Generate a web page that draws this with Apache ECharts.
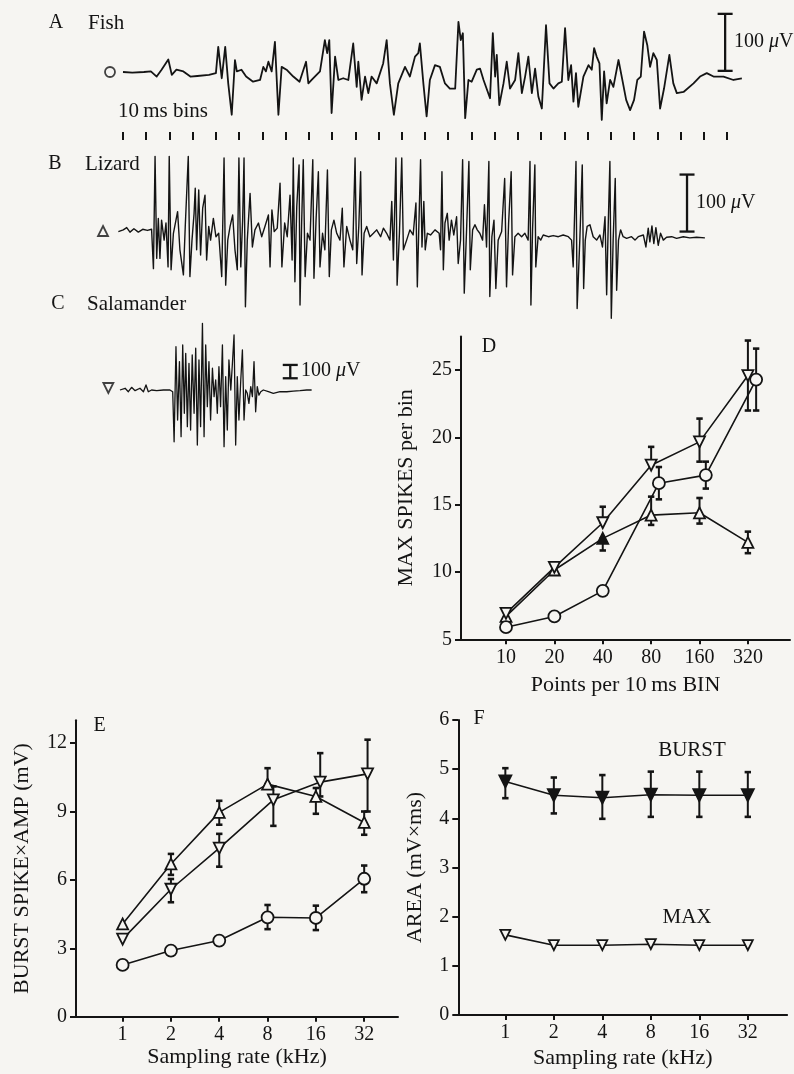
<!DOCTYPE html>
<html>
<head>
<meta charset="utf-8">
<script src="https://cdn.jsdelivr.net/npm/echarts@6/dist/echarts.min.js"></script>
<style>
html,body{margin:0;padding:0;background:#f6f5f2;}
#chart{width:794px;height:1074px;}
</style>
</head>
<body>
<div id="chart"></div>
<script>
// ---------- DATA ----------
// Raw recordings: [time (ms), potential (µV)]
const fishTrace = [[0,0],[4,-1],[9,0],[12,1],[14.5,-8],[16.6,4],[19.5,22],[21,-5],[23,4],[26,1],[29,-8],[32,-7],[37,-5],[40,-2],[41,44],[42.5,-11],[44,44],[45.3,-20],[46.8,-75],[48.2,21],[49,1],[51,4],[53,-8],[56,-17],[59,-14],[60.4,9],[61.5,1],[62.6,18],[64,1],[65.4,53],[66.9,-75],[68.3,9],[70.4,4],[73.3,-8],[76,-17],[78.8,18],[79.8,-20],[81.2,-14],[84.8,1],[86.9,56],[87.9,33],[88.8,56],[89.8,-72],[91.3,27],[92.7,-14],[94.8,-11],[97,-14],[99.1,50],[100.6,-26],[101.3,18],[102.7,-49],[104.2,-8],[105.6,-37],[107,-8],[109.2,-20],[112,15],[113.5,56],[114.9,-20],[116.6,-75],[118.5,-20],[121.4,9],[123.5,-8],[125.7,27],[127.1,33],[127.8,50],[129.3,-20],[130.7,-78],[132.1,-14],[134.3,12],[136.4,9],[138.6,-20],[140.7,-29],[143,-29],[144.4,88],[145.4,56],[146.3,68],[147.3,-81],[148.7,-14],[150.1,-17],[152.3,4],[153.7,6],[155.2,-14],[158,-46],[159.2,68],[160.2,-8],[160.9,30],[162,-58],[163.8,-20],[165.2,18],[166.6,-29],[168.8,-14],[170.2,33],[171.7,-37],[173.1,-8],[174.5,27],[176,-37],[177.4,6],[178.8,-43],[180.3,-64],[182.1,82],[183.6,-20],[185.3,-29],[187.4,-20],[188.9,-17],[190.3,77],[191.7,-14],[192.9,12],[193.9,-52],[195,-2],[196,-61],[198.2,-8],[200.4,12],[201.8,4],[202.8,42],[203.9,27],[205.1,15],[206.1,-84],[207.1,1],[208.2,-55],[209.7,-14],[211.1,-26],[213.3,21],[215.1,-17],[216.6,-49],[218.3,-67],[220,-49],[221.4,-14],[222.9,-8],[224.3,71],[225.7,47],[226.9,9],[228.3,33],[229.8,21],[231.2,-64],[232.9,-29],[235.2,30],[236.9,-20],[238.4,-37],[241.3,-35],[245.6,-20],[248.4,-8],[251.3,-2],[254.2,-8],[258.5,-8],[262.8,-14],[266.4,-11]];

const lizardTrace = [[-2,-1],[0.1,2],[1.6,6],[3,-2],[4.7,4],[6.6,-2],[8.5,3],[10.5,1],[12.3,3],[13.1,-66],[13.8,131],[14.5,-48],[15.2,22],[15.9,-48],[16.6,19],[17.7,-16],[18.5,14],[19.4,-63],[19.9,131],[20.7,-68],[21.7,-4],[22.8,19],[23.5,34],[24.5,-33],[26,-77],[26.8,8],[28.1,131],[28.8,-80],[29.7,-16],[30.6,31],[31.1,75],[31.7,-33],[32.6,72],[33.4,-42],[34.3,40],[35.3,63],[36,-51],[36.9,8],[37.7,-16],[38.9,22],[40,-10],[41.2,-4],[42.5,-80],[43.5,128],[44.2,-95],[45.1,-16],[46.1,8],[47.2,28],[48.2,-33],[49.2,-68],[49.9,128],[50.7,-63],[51.5,19],[52.1,128],[52.7,-133],[53.5,-16],[54.7,66],[55.7,-28],[56.8,2],[58.3,14],[59.7,-10],[61.1,8],[62.6,28],[63.3,-63],[64.1,37],[65.1,-1],[66.4,5],[67.6,84],[68.4,-63],[69.6,14],[70.7,-10],[71.9,63],[72.8,-51],[73.3,128],[74,-89],[74.8,43],[75.8,116],[76.2,-130],[76.9,14],[77.6,125],[78.4,-80],[79.4,-4],[80.5,-16],[81.7,125],[82.2,-83],[83.1,19],[84.1,104],[84.8,-63],[85.9,-4],[86.9,-33],[88,107],[88.8,-80],[89.7,2],[90.8,19],[92,-4],[93.4,-16],[94.4,40],[95.1,-63],[96.3,8],[97.7,-16],[98.9,-33],[99.9,128],[100.6,-57],[101.5,8],[102.3,104],[102.9,-77],[103.8,-4],[104.9,8],[106.3,-10],[107.8,-4],[109.2,2],[110.9,-10],[112.1,5],[113.5,-4],[114.9,-16],[115.7,52],[116.4,-51],[117.5,128],[118,-95],[119,-4],[120,128],[120.7,-33],[122.1,-16],[123.5,2],[124.9,-7],[126.1,49],[126.7,-98],[127.2,-16],[128.1,125],[128.7,-28],[129.5,52],[130.1,-33],[131,-4],[132.4,-7],[134.3,2],[136.1,-4],[136.7,-33],[137.3,104],[137.9,-68],[138.6,14],[139.6,31],[140.4,-16],[141.4,19],[142.4,-7],[143.6,25],[144.3,-57],[145.3,-16],[146.2,125],[146.9,-109],[147.9,2],[148.9,122],[149.5,-68],[150.5,2],[151.5,11],[152.5,2],[153.6,-4],[154.8,-16],[155.6,46],[156.5,-28],[157.5,122],[157.9,-115],[158.8,-10],[159.7,19],[160.5,-101],[161.5,-16],[163,-1],[164.3,92],[165.1,-98],[166,14],[167.1,104],[167.7,-77],[168.7,-10],[170.1,-4],[171.6,-10],[173,-4],[174.4,-16],[175.2,122],[175.6,-130],[176.3,2],[177.3,116],[177.7,-63],[178.7,-10],[179.8,-16],[180.9,-7],[183.1,-10],[185.2,-8],[187.4,-10],[189.5,-7],[191.7,-10],[193.1,-16],[193.8,-63],[195,122],[195.5,-136],[196.7,-10],[197.7,116],[198.3,-101],[199,-16],[199.8,8],[201,11],[202.4,-10],[203.9,-16],[205.3,-7],[206.4,-28],[207.5,25],[208.2,-112],[208.9,14],[209.6,122],[210.2,-153],[211,-16],[211.9,92],[212.5,-104],[213.3,-16],[214.2,2],[215.3,-10],[216.8,-13],[218.9,-10],[220.4,-16],[221.8,-10],[224,-7],[225.1,-28],[226.1,5],[226.8,-19],[227.7,9],[228.5,-22],[229.4,6],[230.4,-25],[231.4,-4],[232.6,-16],[234,-11],[236.2,-10],[238.3,-13],[241.2,-10],[244,-12],[246.9,-11],[250.5,-12]];

const salamanderTrace = [[-1.3,0],[0.9,13],[2.3,-13],[3.7,20],[5.2,-5],[7.3,13],[8.8,-13],[9.9,38],[10.9,-13],[12.3,0],[14.5,-5],[17.4,0],[20.2,0],[21.4,-13],[22,-388],[22.8,325],[23.5,-225],[24.3,213],[25,-350],[25.7,338],[26.4,-175],[27,275],[27.7,-275],[28.4,200],[29.1,-300],[29.8,263],[30.6,-175],[31.3,313],[32,-413],[32.7,225],[33.4,-275],[34.2,500],[34.9,-350],[35.6,338],[36.3,-125],[37,213],[37.7,-225],[38.5,163],[39.2,-50],[39.9,75],[40.6,-175],[41.3,175],[42,-125],[42.8,338],[43.5,-425],[44.2,100],[44.9,-300],[45.6,225],[46.4,0],[47.1,200],[47.8,413],[48.5,-413],[49.2,100],[49.9,-225],[50.7,75],[51.4,300],[52.1,-225],[52.8,0],[53.5,-25],[54.2,-100],[55,25],[55.7,-50],[56.4,213],[57.1,-163],[57.8,25],[58.5,-38],[59.3,-13],[60.4,0],[62.6,-13],[64.7,-25],[67.6,-13],[70.5,-13],[73.3,-8],[76.2,-5],[79.1,0],[81.2,0]];

// 100 µV calibration bars: [time, from µV, to µV]
const calA = [[259.2, 2, 102]];
const calB = [[242.8, -1, 99]];
const calC = [[72, 88, 188]];
// species symbols at trace start: [time, µV]
const markA = [[-5.6, 0]];
const markB = [[-8.6, 0]];
const markC = [[-6.3, 15]];

// Panel D: max spikes per bin vs points per 10 ms bin
const pointsCats = ['10','20','40','80','160','320'];
const dFish = [5.9, 6.7, 8.6, 16.6, 17.2, 24.3];
const dFishLo = [null, null, null, 15.4, 16.2, 22.0];
const dFishHi = [null, null, null, 17.8, 18.2, 26.6];
const dLizard = [6.7, 10.15, 12.5, 14.23, 14.4, 12.2];
const dLizardLo = [null, null, 11.6, 13.5, 13.6, 11.4];
const dLizardHi = [null, null, 12.5, 15.6, 15.5, 13.0];
const dSal = [6.93, 10.35, 13.66, 17.94, 19.67, 24.6];
const dSalLo = [null, null, 13.66, 17.94, 18.2, 22.0];
const dSalHi = [null, null, 14.85, 19.3, 21.4, 27.2];

// Panel E: burst spike x amp vs sampling rate
const rateCats = ['1','2','4','8','16','32'];
const eFish = [2.27, 2.9, 3.34, 4.36, 4.33, 6.05];
const eFishLo = [null, null, null, 3.84, 3.8, 5.46];
const eFishHi = [null, null, null, 4.9, 4.87, 6.63];
const eLizard = [4.07, 6.7, 8.96, 10.2, 9.66, 8.52];
const eLizardLo = [null, 6.22, 8.42, 10.2, 8.9, 7.98];
const eLizardHi = [null, 7.14, 9.47, 10.9, 10.03, 9.0];
const eSal = [3.4, 5.59, 7.39, 9.51, 10.29, 10.65];
const eSalLo = [null, 5.02, 6.58, 8.37, 9.66, 9.0];
const eSalHi = [null, 6.04, 8.02, 10.1, 11.56, 12.15];

// Panel F: area vs sampling rate
const fBurst = [4.75, 4.47, 4.42, 4.48, 4.47, 4.47];
const fBurstLo = [4.41, 4.1, 3.99, 4.03, 4.03, 4.03];
const fBurstHi = [5.02, 4.83, 4.88, 4.95, 4.95, 4.94];
const fMax = [1.63, 1.42, 1.42, 1.44, 1.42, 1.42];

const dTicks = [5, 10, 15, 20, 25];
const eTicks = [0, 3, 6, 9, 12];
const fTicks = [0, 1, 2, 3, 4, 5, 6];

// ---------- STYLE ----------
const INK = '#141414';
const BG = '#f6f5f2';
const SERIF = '"Liberation Serif", "Times New Roman", serif';

const chart = echarts.init(document.getElementById('chart'), null, {renderer: 'canvas'});

function traceAxes(gi, ymin, ymax) {
  return {
    x: {type: 'value', gridIndex: gi, min: -10, max: 270, show: false},
    y: {type: 'value', gridIndex: gi, min: ymin, max: ymax, show: false}
  };
}

function plotXAxis(gi, min, max, cats, name, gap) {
  return {
    type: 'value', gridIndex: gi, min: min, max: max,
    name: name, nameLocation: 'middle', nameGap: gap,
    nameTextStyle: {fontFamily: SERIF, fontSize: 22, color: INK},
    axisLine: {show: true, onZero: false, lineStyle: {color: INK, width: 2}},
    axisTick: {show: true, length: 5, lineStyle: {color: INK, width: 2}, customValues: [0,1,2,3,4,5]},
    axisLabel: {fontFamily: SERIF, fontSize: 20, color: INK, margin: 8,
      customValues: [0,1,2,3,4,5], formatter: v => cats[Math.round(v)]},
    splitLine: {show: false}
  };
}
function plotYAxis(gi, min, max, ticks, name, gap) {
  return {
    type: 'value', gridIndex: gi, min: min, max: max,
    name: name, nameLocation: 'middle', nameGap: gap,
    nameTextStyle: {fontFamily: SERIF, fontSize: 22, color: INK},
    axisLine: {show: true, onZero: false, lineStyle: {color: INK, width: 2}},
    axisTick: {show: true, length: 6, lineStyle: {color: INK, width: 2}, customValues: ticks},
    axisLabel: {fontFamily: SERIF, fontSize: 20, color: INK, margin: 9, customValues: ticks},
    splitLine: {show: false}
  };
}

const tA = traceAxes(0, -100, 125);
const tB = traceAxes(2, -160, 150);
const tC = traceAxes(3, -525, 525);

const xAxes = [
  tA.x,
  {type: 'value', gridIndex: 1, min: 0, max: 260, interval: 10,
   axisLine: {show: false}, axisLabel: {show: false}, splitLine: {show: false},
   axisTick: {show: true, inside: true, length: 8, lineStyle: {color: INK, width: 2}}},
  tB.x,
  tC.x,
  plotXAxis(4, -0.93, 5.87, pointsCats, 'Points per 10\u2009ms BIN', 35),
  plotXAxis(5, -0.965, 5.7, rateCats, 'Sampling rate (kHz)', 30),
  plotXAxis(6, -0.97, 5.81, rateCats, 'Sampling rate (kHz)', 32)
];
const yAxes = [
  tA.y,
  {type: 'value', gridIndex: 1, min: 0, max: 1, show: false},
  tB.y,
  tC.y,
  plotYAxis(4, 5, 27.5, dTicks, 'MAX SPIKES per bin', 44),
  plotYAxis(5, 0, 13, eTicks, 'BURST SPIKE\u00D7AMP (mV)', 43),
  plotYAxis(6, 0, 6, fTicks, 'AREA (mV\u00D7ms)', 32)
];

function traceSeries(ax, data, w) {
  return {type: 'line', xAxisIndex: ax, yAxisIndex: ax, data: data, symbol: 'none',
    showSymbol: false, smooth: false, sampling: null, silent: true,
    lineStyle: {color: INK, width: w, join: 'round'}, z: 3};
}
function calSeries(ax, data) {
  return {type: 'custom', xAxisIndex: ax, yAxisIndex: ax, data: data, silent: true, z: 4,
    renderItem: function (p, api) {
      const t = api.value(0);
      const a = api.coord([t, api.value(1)]);
      const b = api.coord([t, api.value(2)]);
      const h = 7.5;
      const st = {stroke: INK, lineWidth: 2.3};
      return {type: 'group', children: [
        {type: 'line', shape: {x1: a[0], y1: a[1], x2: b[0], y2: b[1]}, style: st},
        {type: 'line', shape: {x1: a[0]-h, y1: a[1], x2: a[0]+h, y2: a[1]}, style: st},
        {type: 'line', shape: {x1: b[0]-h, y1: b[1], x2: b[0]+h, y2: b[1]}, style: st}
      ]};
    }};
}
function markSeries(ax, data, symbol, rot) {
  return {type: 'scatter', xAxisIndex: ax, yAxisIndex: ax, data: data, symbol: symbol,
    symbolRotate: rot, symbolSize: 10, silent: true, z: 5,
    itemStyle: {color: BG, borderColor: INK, borderWidth: 1.8}};
}
function shifted(i, shift) { return i + (shift ? shift[i] : 0); }
function pointSeries(ax, vals, symbol, rot, size, fill, shift, special) {
  return {type: 'line', xAxisIndex: ax, yAxisIndex: ax, silent: true, z: 5,
    data: vals.map((v, i) => {
      const item = {value: [shifted(i, shift), v]};
      if (special && special[i]) item.itemStyle = {color: INK};
      return item;
    }),
    symbol: symbol, symbolRotate: rot, symbolSize: size, showSymbol: true,
    lineStyle: {color: INK, width: 1.6},
    itemStyle: {color: fill, borderColor: INK, borderWidth: 1.8}};
}
function errSeries(ax, lo, hi, shift) {
  const data = [];
  for (let i = 0; i < lo.length; i++) {
    if (lo[i] != null) data.push([shifted(i, shift), lo[i], hi[i]]);
  }
  return {type: 'custom', xAxisIndex: ax, yAxisIndex: ax, data: data, silent: true, z: 2,
    encode: {x: 0, y: [1, 2]},
    renderItem: function (p, api) {
      const x = api.value(0);
      const a = api.coord([x, api.value(1)]);
      const b = api.coord([x, api.value(2)]);
      const h = 3.2;
      const st = {stroke: INK, lineWidth: 2};
      const cap = {stroke: INK, lineWidth: 2.6};
      return {type: 'group', children: [
        {type: 'line', shape: {x1: a[0], y1: a[1], x2: b[0], y2: b[1]}, style: st},
        {type: 'line', shape: {x1: a[0]-h, y1: a[1], x2: a[0]+h, y2: a[1]}, style: cap},
        {type: 'line', shape: {x1: b[0]-h, y1: b[1], x2: b[0]+h, y2: b[1]}, style: cap}
      ]};
    }};
}

const fishShiftD = [0, 0, 0, 0.16, 0.13, 0.17];
const salShiftE = [0, 0, 0, 0.12, 0.09, 0.07];

const series = [
  traceSeries(0, fishTrace, 1.8),
  traceSeries(2, lizardTrace, 1.4),
  traceSeries(3, salamanderTrace, 1.3),
  calSeries(0, calA), calSeries(2, calB), calSeries(3, calC),
  markSeries(0, markA, 'circle', 0),
  markSeries(2, markB, 'triangle', 0),
  markSeries(3, markC, 'triangle', 180),
  // D
  errSeries(4, dFishLo, dFishHi, fishShiftD),
  errSeries(4, dLizardLo, dLizardHi),
  errSeries(4, dSalLo, dSalHi),
  pointSeries(4, dLizard, 'triangle', 0, 11, BG, null, [false, false, true, false, false, false]),
  pointSeries(4, dSal, 'triangle', 180, 11, BG),
  pointSeries(4, dFish, 'circle', 0, 12, BG, fishShiftD),
  // E
  errSeries(5, eFishLo, eFishHi),
  errSeries(5, eLizardLo, eLizardHi),
  errSeries(5, eSalLo, eSalHi, salShiftE),
  pointSeries(5, eFish, 'circle', 0, 12, BG),
  pointSeries(5, eLizard, 'triangle', 0, 11, BG),
  pointSeries(5, eSal, 'triangle', 180, 11, BG, salShiftE),
  // F
  errSeries(6, fBurstLo, fBurstHi),
  pointSeries(6, fBurst, 'triangle', 180, 12, INK),
  pointSeries(6, fMax, 'triangle', 180, 10, BG)
];

function txt(s, x, y, align, size, rich) {
  const style = {text: s, x: 0, y: 0, fill: INK, font: size + 'px ' + SERIF,
    fontFamily: SERIF, fontSize: size, textAlign: align, align: align,
    textVerticalAlign: 'middle', verticalAlign: 'middle'};
  if (rich) style.rich = rich;
  return {type: 'text', x: x, y: y, z: 100, silent: true, style: style};
}
const muRich = {i: {fontStyle: 'italic', fontFamily: SERIF, fontSize: 20, fill: INK}};

const graphic = [
  txt('A', 56, 23, 'center', 20),
  txt('Fish', 88, 23, 'left', 21),
  txt('10\u2009ms bins', 118, 111, 'left', 21),
  txt('B', 55, 164, 'center', 20),
  txt('Lizard', 85, 164, 'left', 21),
  txt('C', 58, 304, 'center', 20),
  txt('Salamander', 87, 304, 'left', 21),
  txt('100 {i|\u03BC}V', 734, 42, 'left', 20, muRich),
  txt('100 {i|\u03BC}V', 696, 203, 'left', 20, muRich),
  txt('100 {i|\u03BC}V', 301, 371, 'left', 20, muRich),
  txt('D', 489, 347, 'center', 20),
  txt('E', 99.5, 726, 'center', 20),
  txt('F', 479, 719, 'center', 20),
  txt('BURST', 692, 750, 'center', 21),
  txt('MAX', 687, 917, 'center', 21)
];

chart.setOption({
  backgroundColor: BG,
  animation: false,
  grid: [
    {left: 99.77, top: 0.75, width: 650.44, height: 128.25},
    {left: 123, top: 139, width: 603.98, height: 1},
    {left: 99.77, top: 145.5, width: 650.44, height: 176.7},
    {left: 99.77, top: 320, width: 650.44, height: 140},
    {left: 461, top: 336.5, width: 329, height: 302.8},
    {left: 76, top: 720.3, width: 322, height: 296.4},
    {left: 458.3, top: 720, width: 328.8, height: 295}
  ],
  xAxis: xAxes,
  yAxis: yAxes,
  series: series,
  graphic: graphic
});
</script>
</body>
</html>
